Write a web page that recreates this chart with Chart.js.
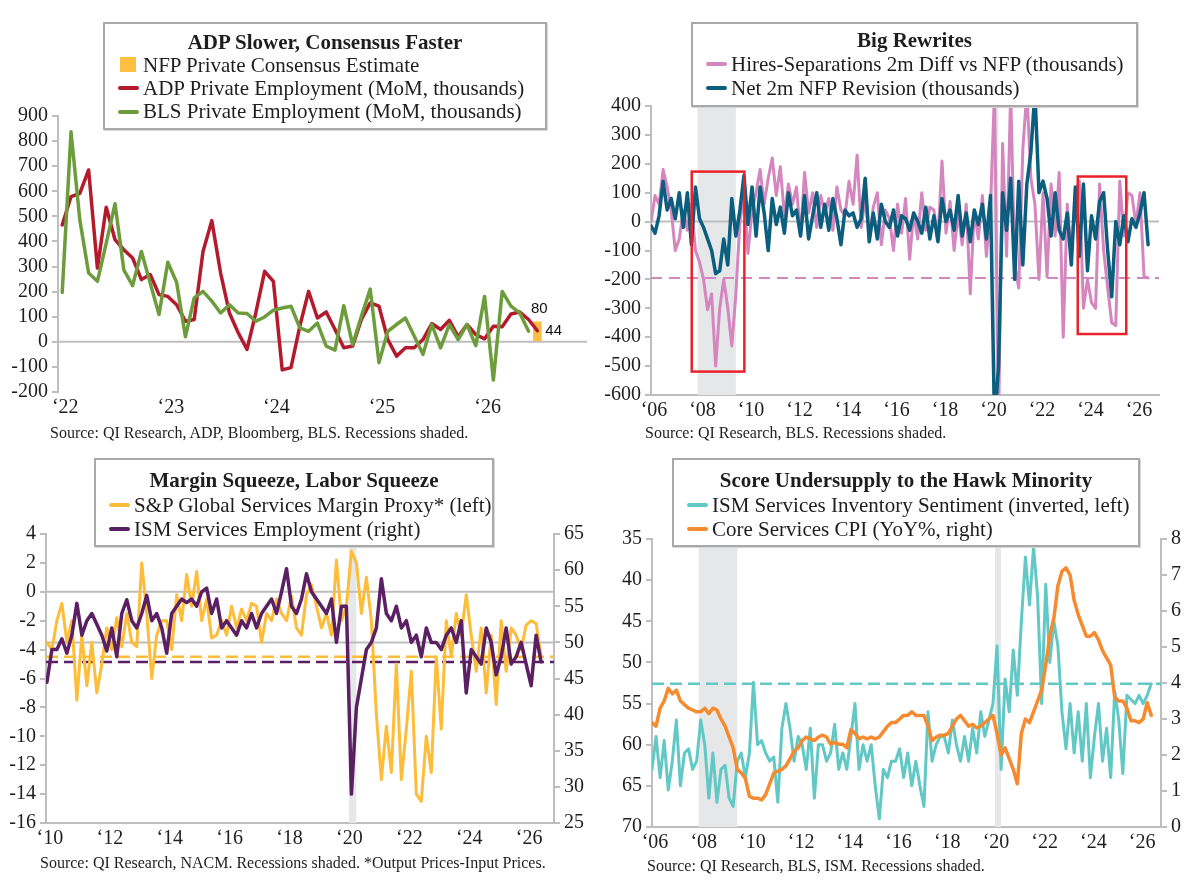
<!DOCTYPE html>
<html>
<head>
<meta charset="utf-8">
<script src="https://cdn.jsdelivr.net/npm/chart.js@4.4.1/dist/chart.umd.min.js"></script>
<style>
  body { margin: 0; background: #fff; width: 1200px; height: 887px; position: relative; overflow: hidden;
         font-family: "Liberation Serif", serif; color: #1e1e1e; }
  canvas { position: absolute; }
  .lg { position: absolute; background: #fff; border: 2px solid #a9a9a9; box-shadow: 1px 1px 0 #d6d6d6;
        box-sizing: border-box; font-size: 21px; padding-left: 13px; }
  .lg .t { font-weight: bold; text-align: center; margin-left: -13px; }
  .lg .i { white-space: nowrap; }
  .mk { display: inline-block; width: 21px; height: 4px; border-radius: 2px; vertical-align: middle;
        margin-right: 4px; position: relative; top: -2px; }
  .mk.sq { width: 16px; height: 15px; border-radius: 0; margin-left: 2px; margin-right: 7px; top: -2px; }
  .src { position: absolute; font-size: 16px; white-space: nowrap; }
</style>
</head>
<body>
<canvas id="c1" width="600" height="443" style="left:0;top:0"></canvas>
<canvas id="c2" width="600" height="443" style="left:600px;top:0"></canvas>
<canvas id="c3" width="600" height="444" style="left:0;top:443px"></canvas>
<canvas id="c4" width="600" height="444" style="left:600px;top:443px"></canvas>
<script>
// ---------- data ----------
// panel 1: monthly from Jan 2022
const p1Start = 2022;
const p1Adp = [466, 579, 592, 685, 294, 536, 407, 367, 334, 248, 268, 188, 181, 148, 82, 89, 360, 483, 274, 115,
  36, -30, 115, 281, 241, -112, -103, 62, 201, 95, 119, 49, -24, -17, 89, 155, 142, 9, -57, -24,
  -24, 9, 73, 49, 86, 20, 69, 29, 12, 62, 60, 111, 119, 89, 44];
const p1Bls = [197, 837, 486, 274, 241, 393, 550, 287, 224, 360, 234, 109, 317, 237, 20, 175, 201, 162, 115, 148,
  115, 113, 82, 99, 126, 135, 142, 56, 42, 75, -17, -33, 144, -11, 102, 210, -83, 42, 69, 95,
  23, -50, 69, -24, 69, 9, 69, -15, 181, -152, 201, 142, 115, 42];
const p1ConsensusMonth = 54;   // Jul 2026
const p1Consensus = 80;
const p1XTicks = [2022, 2023, 2024, 2025, 2026];
const p1XLabels = ['\u201822', '\u201823', '\u201824', '\u201825', '\u201826'];
const p1YTicks = [-200, -100, 0, 100, 200, 300, 400, 500, 600, 700, 800, 900];

// panel 2: every 2 months from Jan 2006
const p2Start = 2006;
const p2Hires = [
  0, 90, 60, 180, 120, 40,   -100, -60, 40, -30, 60, -100,   -140, -200, -305, -250, -500, -300,
  -200, -300, -430, -250, 0, 90,   -110, 40, 100, 180, 60, 150,   220, 90, 190, 20, 130, 60,
  120, -50, 170, 30, 100, -20,   90, 30, 80, -30, 120, 40,   20, 140, 60, 230, -20, 80,
  -60, 50, 100, -80, 40, 10,   -100, 60, -40, 80, -130, 30,   -60, 100, -30, 50, 40, -60,
  210, -40, 70, -100, 30, -80,   60, -250, 40, -60, 90, -120,   50, 450, -700, 270, -120, 450,
  -150, -230, 250, 450, 150, 60,   -200, 100, -190, 130, -50, 170,   -400, 60, -120, 100, 140, -300,
  -200, -280, -300, 130, -100, -230,   -350, -360, 140, -50, 100, 90,   -10, 100, -190, -195];
const p2Revision = [
  -15, -40, 20, 140, 40, 80,   10, 100, -20, 100, -80, 120,   10, -20, -60, -100, -180, -170,
  -60, -150, 80, -50, 40, 160,   -10, 120, -50, 120, 30, -100,   80, -10, 50, -40, 100, 20,
  40, -50, 90, -60, 20, 100,   -20, 60, -30, 80, 10, -80,   40, 20, 30, -20, 10, 150,
  -70, 30, -60, 60, 0, -20,   40, -50, 20, 10, -30, 30,   0, -40, 50, -60, 20, -70,
  80, 0, 40, -30, 90, -50,   30, -70, 40, -10, 60, -60,   90, -700, -500, 100, -30, 150,
  -200, 140, -150, 130, 240, 450,   100, 140, 80, -50, 100, -30,   -60, 30, -150, 120, -120, 130,
  -170, 20, -60, 70, 100, -100,   -260, 0, -80, 20, -70, 10,   -20, 30, 100, -80];
const p2Boxes = [[2007.68, 2009.85, -519, 173], [2023.6, 2025.6, -389, 156]];
const p2XTicks = [2006, 2008, 2010, 2012, 2014, 2016, 2018, 2020, 2022, 2024, 2026];
const p2XLabels = p2XTicks.map(y => '\u2018' + String(y).slice(2));
const p2YTicks = [-600, -500, -400, -300, -200, -100, 0, 100, 200, 300, 400];

// panel 3: every 2 months from Jan 2010
const p3Start = 2010;
const p3Margin = [
  -3.5, -4, -2, -0.8, -3.5, -2,   -7.5, -3, -6.5, -3.5, -7, -5,   -2.5, -4, -1.8, -3.8, -1.5, -3.5,
  -3.8, 2, -1.5, -6, -3, -2,   -2, -4, -0.2, -2, 1.2, -1,   1.4, -2, -0.5, -3.2, -3, -2,
  -3, -1, -2.5, -1.2, -2, -0.8,   -1, -3.5, -1.5, -2, -0.5, -1.5,   -2, -0.3, -2.5, -3, -0.2, 0.5,
  -1, -2.5, -1.5, -3, 2.2, -2,   -1, 2.8, 2, -1.5, 1, -2,   -8.5, -13, -9.3, -12.5, -5, -13,
  -9.5, -5.5, -14, -14.5, -10, -12.5,   -4.5, -9.5, -2, -4.5, -1.5, -3,   -0.2, -3, -5.5, -2.5, -7, -3,
  -7.8, -2, -5.5, -2.5, -3, -4,   -2.3, -2, -2.2, -4.5];
const p3Employment = [
  44.5, 49, 49, 50.5, 48.5, 51,   55.4, 51, 53, 54, 52.5, 51,   48.8, 52, 48, 54, 55.9, 53,
  52, 54, 56.5, 53, 54, 52,   48.5, 54, 55, 56, 55.5, 56,   55, 57, 57.5, 54, 56, 52,
  53, 52, 51, 53, 52, 54,   52, 54, 55, 56, 54, 57,   60.2, 55, 54, 56, 59.5, 57,
  56, 55, 54, 56, 50, 55,   55, 29, 41, 45, 49, 50,   52, 58.8, 54, 53, 55, 52,
  53, 50, 51, 48, 52, 50,   50, 49, 51, 52, 50, 53,   43, 49, 48, 47, 52, 50,
  45.5, 48, 52, 47, 48, 50,   47, 44, 51, 47.3];
const p3XTicks = [2010, 2012, 2014, 2016, 2018, 2020, 2022, 2024, 2026];
const p3XLabels = p3XTicks.map(y => '\u2018' + String(y).slice(2));
const p3YTicks = [-16, -14, -12, -10, -8, -6, -4, -2, 0, 2, 4];
const p3Y1Ticks = [25, 30, 35, 40, 45, 50, 55, 60, 65];

// panel 4: every 2 months from Jan 2006
const p4Start = 2006;
const p4Inventory = [
  63, 59, 64, 59.5, 65.5, 62,   57, 65, 61, 60.5, 63, 62,   57, 60, 66.5, 61, 67, 63,
  62.5, 66.5, 67.5, 62, 61, 64,   61, 52.4, 60, 59.5, 61, 62,   61.5, 67, 58, 55, 58, 62,
  59, 60, 63, 58, 66.5, 60,   60, 62, 61, 57.5, 63, 61,   63, 59, 55, 63, 60, 62,
  60, 65, 69, 63, 64, 62,   62, 60.5, 64, 61, 65, 62,   65, 67.5, 56, 62, 60, 59,
  59, 61, 57, 60, 62, 59,   62, 58, 61, 56, 59, 57,   55, 48, 63, 52, 56, 48.5,
  54, 45, 37.2, 43, 36, 42,   55, 40.5, 50, 45, 48, 56,   60.5, 55, 61, 56, 62, 55,
  64, 59, 55, 62, 58, 64,   53.5, 57, 63.5, 54, 54.5, 55,   54, 55, 54, 52.6];
const p4CoreCpi = [
  2.9, 2.8, 3.3, 3.5, 3.85, 3.7,   3.8, 3.5, 3.4, 3.3, 3.25, 3.2,   3.2, 3.3, 3.15, 3.3, 3.25, 3.0,
  2.8, 2.5, 2.2, 1.6, 1.5, 1.35,   0.85, 0.8, 0.8, 0.75, 0.9, 1.2,   1.5, 1.55, 1.6, 1.7, 1.9, 2.1,
  2.2, 2.4, 2.5, 2.45, 2.4, 2.5,   2.55, 2.5, 2.3, 2.35, 2.3, 2.3,   2.2, 2.7, 2.6, 2.45, 2.5, 2.45,
  2.5, 2.45, 2.5, 2.65, 2.8, 2.9,   2.9, 3.0, 3.1, 3.1, 3.2, 3.1,   3.1, 3.1, 2.8, 2.4, 2.5, 2.55,
  2.55, 2.6, 2.8, 3.0, 3.1, 2.95,   2.8, 2.85, 2.75, 2.8, 2.9, 3.0,   3.1, 2.6, 2.0, 2.2, 1.9, 1.6,
  1.2, 2.6, 3.0, 2.9, 3.2, 3.5,   3.8, 4.5, 5.3, 5.8, 6.7, 7.1,   7.2, 7.0, 6.3, 5.9, 5.6, 5.3,
  5.3, 5.4, 5.2, 4.9, 4.7, 4.5,   3.6, 3.5, 3.5, 3.3, 2.95, 2.95,   2.9, 3.0, 3.45, 3.1];
const p4XTicks = p2XTicks;
const p4XLabels = p2XLabels;
const p4YTicks = [35, 40, 45, 50, 55, 60, 65, 70];
const p4Y1Ticks = [0, 1, 2, 3, 4, 5, 6, 7, 8];

const recessions = [[2007.92, 2009.5], [2020.08, 2020.33]];

// ---------- styling ----------
const GRAY = '#bebebe';
const INK = '#1e1e1e';
const SERIF = '"Liberation Serif", serif';
const COL = {
  adp: '#b31b2c', bls: '#6c9c3c', bar: '#fdbf3f',
  hires: '#d486bf', rev: '#0b5e7d',
  margin: '#fdbd3a', emp: '#5b2063',
  inv: '#62c8c6', cpi: '#f68a2e'
};

function pts(start, stepMonths, values) {
  return values.map((v, i) => ({ x: start + i * stepMonths / 12, y: v }));
}
function flat(value, x0, x1) {
  return [{ x: x0, y: value }, { x: x1, y: value }];
}
function line(data, color, axis, extra) {
  return Object.assign({ type: 'line', data, borderColor: color, backgroundColor: color, borderWidth: 3,
    pointRadius: 0, tension: 0, borderJoinStyle: 'round', borderCapStyle: 'round', yAxisID: axis || 'y' }, extra);
}
function xAxis(min, max, ticks, labels, border) {
  return {
    type: 'linear', min, max, offset: false,
    afterBuildTicks: s => { s.ticks = ticks.map(v => ({ value: v })); },
    afterFit: s => { s.height = 30; },
    grid: { display: false, drawTicks: false },
    border: { display: border, color: GRAY, width: 2 },
    ticks: { font: { family: SERIF, size: 20 }, color: INK, padding: 4, labelOffset: 3,
             maxRotation: 0, autoSkip: false, callback: (v, i) => labels[i] }
  };
}
function yAxis(ticks, width, pos, extra) {
  return Object.assign({
    type: 'linear', position: pos || 'left', min: ticks[0], max: ticks[ticks.length - 1],
    afterBuildTicks: s => { s.ticks = ticks.map(v => ({ value: v })); },
    afterFit: s => { s.width = width; },
    grid: { drawOnChartArea: false, drawTicks: true, tickLength: 6, color: GRAY, lineWidth: 2 },
    border: { display: true, color: GRAY, width: 2 },
    ticks: { font: { family: SERIF, size: 20 }, color: INK, padding: 4, autoSkip: false,
             callback: v => String(v) }
  }, extra);
}

const decor = {
  id: 'decor',
  beforeDatasetsDraw(chart, args, o) {
    const { ctx, chartArea: a, scales } = chart;
    ctx.save();
    ctx.beginPath();
    ctx.rect(a.left, a.top, a.right - a.left, a.bottom - a.top);
    ctx.clip();
    (o.shade || []).forEach(([s, e]) => {
      const x0 = scales.x.getPixelForValue(s), x1 = scales.x.getPixelForValue(e);
      ctx.fillStyle = '#e6e7e8';
      ctx.fillRect(x0, a.top, x1 - x0, a.bottom - a.top);
    });
    (o.grid || []).forEach(g => {
      const y = scales[g.axis].getPixelForValue(g.value);
      ctx.strokeStyle = GRAY;
      ctx.lineWidth = 2;
      ctx.beginPath(); ctx.moveTo(a.left, y); ctx.lineTo(a.right, y); ctx.stroke();
    });
    ctx.restore();
  },
  afterDatasetsDraw(chart, args, o) {
    const { ctx, scales } = chart;
    ctx.save();
    (o.boxes || []).forEach(([x0, x1, y0, y1]) => {
      const l = scales.x.getPixelForValue(x0), r = scales.x.getPixelForValue(x1);
      const t = scales.y.getPixelForValue(y1), b = scales.y.getPixelForValue(y0);
      ctx.strokeStyle = '#e8222a';
      ctx.lineWidth = 2.5;
      ctx.strokeRect(l, t, r - l, b - t);
    });
    (o.labels || []).forEach(lb => {
      ctx.font = '15px "Liberation Sans", Arial, sans-serif';
      ctx.fillStyle = '#111';
      ctx.textAlign = lb.align;
      ctx.textBaseline = 'middle';
      ctx.fillText(lb.text, scales.x.getPixelForValue(lb.x) + lb.dx, scales.y.getPixelForValue(lb.y) + lb.dy);
    });
    ctx.restore();
  }
};

function base(padding, decorOpts) {
  return {
    responsive: false, animation: false, devicePixelRatio: 1,
    layout: { padding },
    plugins: { legend: { display: false }, tooltip: { enabled: false }, decor: decorOpts }
  };
}

// ---------- panel 1 ----------
const p1Min = 2021.96, p1Max = 2026.97;
const p1BarX = p1Start + p1ConsensusMonth / 12;
const p1AdpLast = p1Adp[p1Adp.length - 1];
new Chart(document.getElementById('c1'), {
  type: 'line',
  data: {
    datasets: [
      { type: 'bar', data: [{ x: p1BarX, y: p1Consensus }], backgroundColor: COL.bar, barThickness: 8, order: 3 },
      line(pts(p1Start, 1, p1Adp), COL.adp, 'y', { borderWidth: 3.5, order: 2 }),
      line(pts(p1Start, 1, p1Bls), COL.bls, 'y', { borderWidth: 3.5, order: 1 })
    ]
  },
  options: Object.assign(base({ left: 0, right: 13, top: 116, bottom: 21 }, {
    grid: [{ axis: 'y', value: 0 }],
    labels: [
      { x: p1BarX, y: p1Consensus, text: String(p1Consensus), dx: 2, dy: -13, align: 'center' },
      { x: p1BarX, y: p1AdpLast, text: String(p1AdpLast), dx: 8, dy: 0, align: 'left' }
    ]
  }), {
    scales: {
      x: xAxis(p1Min, p1Max, p1XTicks, p1XLabels, false),
      y: yAxis(p1YTicks, 58)
    }
  }),
  plugins: [decor]
});

// ---------- panel 2 ----------
const p2Min = 2006, p2Max = 2026.95;
const p2HiresLast = p2Hires[p2Hires.length - 1];
new Chart(document.getElementById('c2'), {
  type: 'line',
  data: {
    datasets: [
      line(flat(p2HiresLast, p2Min, p2Max), COL.hires, 'y', { borderWidth: 2, borderDash: [11, 7], borderCapStyle: 'butt', order: 3 }),
      line(pts(p2Start, 2, p2Hires), COL.hires, 'y', { order: 2 }),
      line(pts(p2Start, 2, p2Revision), COL.rev, 'y', { borderWidth: 3.5, order: 1 })
    ]
  },
  options: Object.assign(base({ left: 0, right: 41, top: 106, bottom: 18 }, {
    shade: recessions,
    grid: [{ axis: 'y', value: 0 }],
    boxes: p2Boxes
  }), {
    scales: {
      x: xAxis(p2Min, p2Max, p2XTicks, p2XLabels, true),
      y: yAxis(p2YTicks, 51)
    }
  }),
  plugins: [decor]
});

// ---------- panel 3 ----------
const p3Min = 2009.97, p3Max = 2026.93;
new Chart(document.getElementById('c3'), {
  type: 'line',
  data: {
    datasets: [
      line(flat(p3Margin[p3Margin.length - 1], p3Min, p3Max), COL.margin, 'y', { borderWidth: 2.5, borderDash: [12, 6], borderCapStyle: 'butt', order: 4 }),
      line(flat(p3Employment[p3Employment.length - 1], p3Min, p3Max), COL.emp, 'y1', { borderWidth: 2.5, borderDash: [12, 6], borderCapStyle: 'butt', order: 3 }),
      line(pts(p3Start, 2, p3Margin), COL.margin, 'y', { order: 2 }),
      line(pts(p3Start, 2, p3Employment), COL.emp, 'y1', { borderWidth: 3.5, order: 1 })
    ]
  },
  options: Object.assign(base({ left: 0, right: 6, top: 91, bottom: 34 }, {
    shade: recessions,
    grid: [{ axis: 'y', value: 0 }, { axis: 'y1', value: 50 }]
  }), {
    scales: {
      x: xAxis(p3Min, p3Max, p3XTicks, p3XLabels, true),
      y: yAxis(p3YTicks, 46),
      y1: yAxis(p3Y1Ticks, 40, 'right')
    }
  }),
  plugins: [decor]
});

// ---------- panel 4 ----------
const p4Min = 2006, p4Max = 2026.9;
new Chart(document.getElementById('c4'), {
  type: 'line',
  data: {
    datasets: [
      line(flat(p4Inventory[p4Inventory.length - 1], p4Min, p4Max), COL.inv, 'y', { borderWidth: 2.5, borderDash: [12, 6], borderCapStyle: 'butt', order: 3 }),
      line(pts(p4Start, 2, p4Inventory), COL.inv, 'y', { order: 2 }),
      line(pts(p4Start, 2, p4CoreCpi), COL.cpi, 'y1', { borderWidth: 3.5, order: 1 })
    ]
  },
  options: Object.assign(base({ left: 0, right: 5, top: 96, bottom: 30 }, {
    shade: recessions
  }), {
    scales: {
      x: xAxis(p4Min, p4Max, p4XTicks, p4XLabels, true),
      y: yAxis(p4YTicks, 52, 'left', { reverse: true }),
      y1: yAxis(p4Y1Ticks, 34, 'right')
    }
  }),
  plugins: [decor]
});

// ---------- legends and sources ----------
const legends = [
  { box: [103, 22, 444, 108], pad: 6.5, lh: 23.3, title: 'ADP Slower, Consensus Faster',
    items: [['NFP Private Consensus Estimate', COL.bar, true],
            ['ADP Private Employment (MoM, thousands)', COL.adp],
            ['BLS Private Employment (MoM, thousands)', COL.bls]] },
  { box: [691, 22, 447, 85], pad: 4, lh: 24, title: 'Big Rewrites',
    items: [['Hires-Separations 2m Diff vs NFP (thousands)', COL.hires],
            ['Net 2m NFP Revision (thousands)', COL.rev]] },
  { box: [94, 458, 400, 89], pad: 8, lh: 24.5, title: 'Margin Squeeze, Labor Squeeze',
    items: [['S&P Global Services Margin Proxy* (left)', COL.margin],
            ['ISM Services Employment (right)', COL.emp]] },
  { box: [672, 458, 468, 89], pad: 8, lh: 24.5, title: 'Score Undersupply to the Hawk Minority',
    items: [['ISM Services Inventory Sentiment (inverted, left)', COL.inv],
            ['Core Services CPI (YoY%, right)', COL.cpi]] }
];
legends.forEach(l => {
  const d = document.createElement('div');
  d.className = 'lg';
  d.style.cssText = `left:${l.box[0]}px;top:${l.box[1]}px;width:${l.box[2]}px;height:${l.box[3]}px;` +
                    `padding-top:${l.pad}px;line-height:${l.lh}px`;
  const t = document.createElement('div');
  t.className = 't';
  t.textContent = l.title;
  d.appendChild(t);
  l.items.forEach(([label, color, square]) => {
    const r = document.createElement('div');
    r.className = 'i';
    const m = document.createElement('span');
    m.className = square ? 'mk sq' : 'mk';
    m.style.background = color;
    r.appendChild(m);
    r.appendChild(document.createTextNode(label));
    d.appendChild(r);
  });
  document.body.appendChild(d);
});

const sources = [
  [50, 424, 'Source: QI Research, ADP, Bloomberg, BLS. Recessions shaded.'],
  [645, 424, 'Source: QI Research, BLS. Recessions shaded.'],
  [40, 854, 'Source: QI Research, NACM. Recessions shaded. *Output Prices-Input Prices.'],
  [647, 857, 'Source: QI Research, BLS, ISM. Recessions shaded.']
];
sources.forEach(([x, y, text]) => {
  const s = document.createElement('div');
  s.className = 'src';
  s.style.left = x + 'px';
  s.style.top = y + 'px';
  s.textContent = text;
  document.body.appendChild(s);
});
</script>
</body>
</html>
